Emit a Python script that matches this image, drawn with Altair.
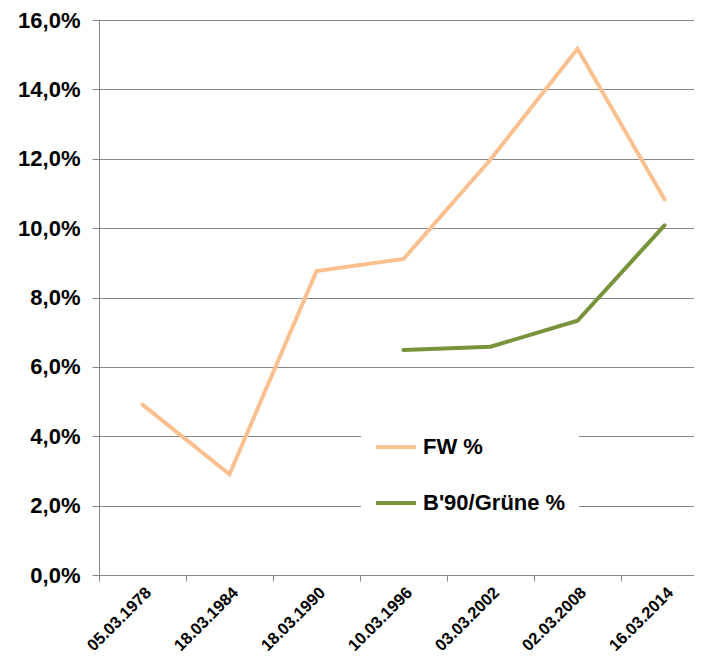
import altair as alt
import pandas as pd

dates = ["05.03.1978", "18.03.1984", "18.03.1990", "10.03.1996", "03.03.2002", "02.03.2008", "16.03.2014"]
fw = [4.91, 2.90, 8.76, 9.11, 11.98, 15.17, 10.83]
gruene = [None, None, None, 6.49, 6.58, 7.33, 10.08]
series_names = ["FW %", "B'90/Grüne %"]
series_colors = ["#FAC090", "#77933C"]

rows = []
for d, v in zip(dates, fw):
    rows.append({"date": d, "series": series_names[0], "value": v / 100})
for d, v in zip(dates, gruene):
    if v is not None:
        rows.append({"date": d, "series": series_names[1], "value": v / 100})
df = pd.DataFrame(rows)

FONT = "Liberation Sans"
GRAY = "#868686"

chart = alt.Chart(df).mark_line(strokeWidth=4, strokeCap="round", strokeJoin="miter").encode(
    x=alt.X("date:N", sort=dates, bandPosition=0.5,
            scale=alt.Scale(type="band", paddingInner=0, paddingOuter=0, range=[0, 609]),
            axis=alt.Axis(title=None, labelAngle=-45, tickBand="extent", labelFont=FONT,
                          labelFontSize=16.5, labelFontWeight="bold", labelColor="black",
                          domainColor=GRAY, tickColor=GRAY, tickSize=6, labelPadding=3,
                          grid=False)),
    y=alt.Y("value:Q", scale=alt.Scale(domain=[0, 0.16], nice=False),
            axis=alt.Axis(title=None, format=".1%", values=[i * 0.02 for i in range(9)],
                          labelFont=FONT, labelFontSize=22, labelFontWeight="bold",
                          labelColor="black", domainColor=GRAY, tickColor=GRAY, tickSize=7,
                          labelPadding=12, gridColor=GRAY, gridOpacity=1,
                          labelExpr="replace(datum.label, '.', ',')")),
    color=alt.Color("series:N", sort=series_names,
                    scale=alt.Scale(domain=series_names, range=series_colors),
                    legend=alt.Legend(title=None, orient="none", legendX=262, legendY=392,
                                      fillColor="white", padding=13, symbolType="stroke",
                                      symbolSize=1600, symbolStrokeWidth=4, labelFont=FONT,
                                      labelFontSize=22, labelFontWeight="bold",
                                      labelColor="black", labelOffset=5, rowPadding=23,
                                      labelLimit=300)),
).properties(
    width=595, height=555,
    autosize=alt.AutoSizeParams(type="none"),
    padding={"left": 91, "top": 12, "right": 0, "bottom": 81},
).configure_view(stroke=None).configure(background="white")

chart.save("out.html", embed_options={"renderer": "svg", "actions": False})
